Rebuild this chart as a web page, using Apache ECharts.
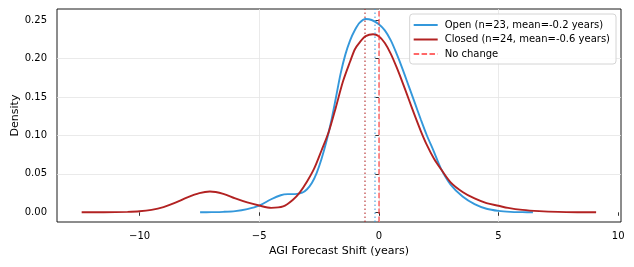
<!DOCTYPE html>
<html>
<head>
<meta charset="utf-8">
<script src="https://cdn.jsdelivr.net/npm/echarts@6/dist/echarts.min.js"></script>
<style>
html,body{margin:0;padding:0;background:#fff;}
#c{width:634px;height:267px;}
</style>
</head>
<body>
<div id="c"></div>
<script>
// ---- data ----
const openX = [-7.47,-7.0,-6.5,-6.0,-5.5,-5.0,-4.5,-4.1,-3.8,-3.5,-3.2,-3.0,-2.8,-2.6,-2.4,-2.2,-2.0,-1.8,-1.6,-1.4,-1.2,-1.0,-0.8,-0.55,-0.3,0.0,0.25,0.5,0.75,1.0,1.25,1.5,1.75,2.0,2.3,2.6,3.0,3.5,4.0,4.5,5.0,5.5,6.0,6.44];
const openY = [0.0000,0.0002,0.0006,0.0016,0.0042,0.0087,0.0170,0.0222,0.0236,0.0237,0.0255,0.0300,0.0380,0.0510,0.0690,0.0910,0.1170,0.1480,0.1800,0.2050,0.2235,0.2370,0.2465,0.2513,0.2500,0.2445,0.2365,0.2235,0.2055,0.1855,0.1640,0.1425,0.1210,0.1005,0.0790,0.0565,0.0360,0.0205,0.0106,0.0046,0.0018,0.0006,0.0002,0.0000];
const closedX = [-12.42,-11.5,-10.5,-10.0,-9.5,-9.0,-8.5,-8.0,-7.5,-7.06,-6.5,-6.0,-5.5,-5.0,-4.5,-4.0,-3.6,-3.3,-3.0,-2.7,-2.4,-2.1,-1.8,-1.5,-1.2,-1.0,-0.8,-0.55,-0.24,0.0,0.25,0.5,0.75,1.0,1.25,1.5,1.75,2.0,2.3,2.6,3.0,3.5,4.0,4.5,5.0,5.4,6.0,6.7,7.5,8.3,9.08];
const closedY = [0.0000,0.0001,0.0006,0.0013,0.0032,0.0068,0.0125,0.0195,0.0250,0.0270,0.0240,0.0180,0.0128,0.0088,0.0058,0.0076,0.0160,0.0260,0.0400,0.0570,0.0800,0.1040,0.1360,0.1700,0.1960,0.2120,0.2210,0.2290,0.2315,0.2290,0.2200,0.2060,0.1880,0.1680,0.1470,0.1260,0.1060,0.0880,0.0700,0.0560,0.0390,0.0265,0.0180,0.0120,0.0085,0.0057,0.0031,0.0015,0.0005,0.0001,0.0000];
const seriesNames = ['Open (n=23, mean=-0.2 years)', 'Closed (n=24, mean=-0.6 years)', 'No change'];
const openMean = -0.17;
const closedMean = -0.58;
const noChange = 0;
const xTicks = [-10, -5, 0, 5, 10];
const yTicks = [0, 0.05, 0.10, 0.15, 0.20, 0.25];
const xRange = [-13.45, 10.12];
const yRange = [-0.0126, 0.2643];

const BLUE = '#3498db', RED = '#b22222';
const FONT = 'DejaVu Sans';
const minus = s => String(s).replace(/-/g, '\u2212');
const zip = (a, b) => a.map((v, i) => [v, b[i]]);

const chart = echarts.init(document.getElementById('c'), null, {renderer: 'canvas'});
chart.setOption({
  animation: false,
  backgroundColor: '#fff',
  textStyle: {fontFamily: FONT},
  grid: {left: 57, right: 13, top: 9, bottom: 45, show: true, borderColor: '#000', borderWidth: 0.9,
    backgroundColor: 'transparent', containLabel: false, outerBoundsMode: 'none'},
  legend: {
    data: seriesNames,
    orient: 'vertical', right: 18, top: 14,
    padding: [6, 6, 5, 3], itemGap: 4.5, itemWidth: 24, itemHeight: 10,
    itemStyle: {opacity: 0},
    backgroundColor: 'rgba(255,255,255,0.85)', borderColor: '#d4d4d4', borderWidth: 1, borderRadius: 3,
    textStyle: {fontSize: 10, color: '#000', fontFamily: FONT, padding: [0, 0, 0, 2]},
    selectedMode: false
  },
  xAxis: {
    type: 'value', min: xRange[0], max: xRange[1],
    name: 'AGI Forecast Shift (years)', nameLocation: 'middle', nameGap: 24, nameMoveOverlap: false,
    nameTextStyle: {fontSize: 11, color: '#000', fontFamily: FONT},
    axisLine: {show: false},
    axisTick: {show: true, inside: false, length: 3.5, lineStyle: {color: '#000', width: 0.8}, customValues: xTicks},
    axisLabel: {fontSize: 10, color: '#000', margin: 9.5, fontFamily: FONT, customValues: xTicks, formatter: v => minus(v)},
    splitLine: {show: true, showMinLine: false, showMaxLine: false, lineStyle: {color: '#e5e5e5', width: 0.8}}
  },
  yAxis: {
    type: 'value', min: yRange[0], max: yRange[1],
    name: 'Density', nameLocation: 'middle', nameGap: 36, nameRotate: 90, nameMoveOverlap: false,
    nameTextStyle: {fontSize: 11, color: '#000', fontFamily: FONT},
    axisLine: {show: false},
    axisTick: {show: true, inside: false, length: 3.5, lineStyle: {color: '#000', width: 0.8}, customValues: yTicks},
    axisLabel: {fontSize: 10, color: '#000', margin: 10, fontFamily: FONT, customValues: yTicks, formatter: v => v.toFixed(2)},
    splitLine: {show: true, showMinLine: false, showMaxLine: false, lineStyle: {color: '#e5e5e5', width: 0.8}}
  },
  series: [
    {
      name: seriesNames[0], type: 'line', data: zip(openX, openY),
      showSymbol: false, symbol: 'none', smooth: 0.3, z: 3,
      lineStyle: {color: BLUE, width: 1.9}, itemStyle: {color: BLUE},
      markLine: {silent: true, symbol: 'none', label: {show: false}, animation: false,
        data: [{xAxis: openMean}], lineStyle: {color: 'rgba(52,152,219,0.7)', type: [1.5, 2.5], width: 1.5}}
    },
    {
      name: seriesNames[1], type: 'line', data: zip(closedX, closedY),
      showSymbol: false, symbol: 'none', smooth: 0.3, z: 4,
      lineStyle: {color: RED, width: 1.9}, itemStyle: {color: RED},
      markLine: {silent: true, symbol: 'none', label: {show: false}, animation: false,
        data: [{xAxis: closedMean}], lineStyle: {color: 'rgba(178,34,34,0.7)', type: [1.5, 2.5], width: 1.5}}
    },
    {
      name: seriesNames[2], type: 'line', data: [], symbol: 'none', z: 5,
      lineStyle: {color: 'rgba(255,40,40,0.7)', type: [5.5, 2.4], width: 1.5}, itemStyle: {color: 'rgba(255,40,40,0.7)'},
      markLine: {silent: true, symbol: 'none', label: {show: false}, animation: false,
        data: [{xAxis: noChange}], lineStyle: {color: 'rgba(255,40,40,0.7)', type: [5.5, 2.4], width: 1.5}}
    }
  ]
});
</script>
</body>
</html>
